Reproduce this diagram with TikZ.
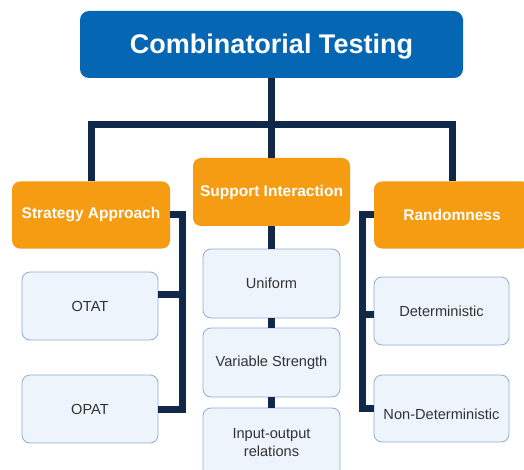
\documentclass[tikz,border=0pt]{standalone}
\usepackage{fontspec}
\setmainfont{Liberation Sans}
\usepackage{tikz}
\usetikzlibrary{positioning,calc}
\definecolor{ctblue}{HTML}{0566B4}
\definecolor{ctorange}{HTML}{F59C12}
\definecolor{ctnavy}{HTML}{10284A}
\definecolor{ctleaf}{HTML}{EDF4FC}
\definecolor{ctleafb}{HTML}{8EAED2}
\tikzset{topbox/.style={rounded corners=9, fill=ctblue, text=white, font=\fontsize{27}{32}\selectfont\bfseries, minimum width=383pt, minimum height=67pt, inner sep=0pt}}
\tikzset{catbox/.style={rounded corners=8, fill=ctorange, text=white, font=\fontsize{15.5}{18}\selectfont\bfseries, minimum height=67pt, inner sep=0pt}}
\tikzset{leafbox/.style={rounded corners=8, fill=ctleaf, draw=ctleafb, line width=0.8pt, text=black!80, font=\fontsize{14.6}{18}\selectfont, minimum width=136pt, minimum height=68pt, inner sep=0pt, align=center}}
\tikzset{conn/.style={draw=ctnavy, line width=7pt}}

\begin{document}
\begin{tikzpicture}[x=1pt, y=-1pt]
    \clip (0,0) rectangle (524,470);
    \fill[white] (0,0) rectangle (524,470);
    \node[topbox, text height=22pt, text depth=3pt] (title) at (271.5,44.5) {Combinatorial Testing};
    % categories
    \node[catbox, minimum width=158pt] (strat) at (91,215) {Strategy Approach};
    \node[catbox, minimum width=157pt, minimum height=68pt] (supp) at (271.5,192) {Support Interaction};
    \node[catbox, minimum width=156pt] (rand) at (452,215) {Randomness};
    % leaves
    \node[leafbox] (otat) at (90,306) {OTAT};
    \node[leafbox] (opat) at (90,409) {OPAT};
    \node[leafbox, minimum width=137pt, minimum height=69pt] (unif) at (271.5,283.5) {Uniform};
    \node[leafbox, minimum width=137pt, minimum height=69pt] (vstr) at (271.5,362.5) {Variable Strength};
    \node[leafbox, minimum width=137pt, minimum height=70pt] (inout) at (271.5,443) {Input-output\\relations};
    \node[leafbox, minimum width=135pt] (det) at (441.5,311) {Deterministic};
    \node[leafbox, minimum width=135pt, minimum height=67pt, text height=26pt, text depth=3.5pt] (ndet) at (441.5,408.5) {Non-Deterministic};
    % connectors
    \coordinate (hub) at (271.5,125);
    \coordinate (lbus) at (182,215);
    \coordinate (rbus) at (362,215);
    \draw[conn] (title) -- (hub);
    \draw[conn] (strat.north) |- (hub) -| (rand.north);
    \draw[conn] (hub) -- (supp);
    \draw[conn] (strat.east) -- (lbus) |- (opat.east);
    \draw[conn] ([yshift=12pt]otat.east) -- ([yshift=12pt]otat.east -| lbus);
    \draw[conn] (rand.west) -- (rbus) |- (ndet.west);
    \draw[conn] ([yshift=-3pt]det.west) -- ([yshift=-3pt]det.west -| rbus);
    \draw[conn] (supp) -- (unif);
    \draw[conn] (unif) -- (vstr);
    \draw[conn] (vstr) -- (inout);
\end{tikzpicture}
\end{document}
